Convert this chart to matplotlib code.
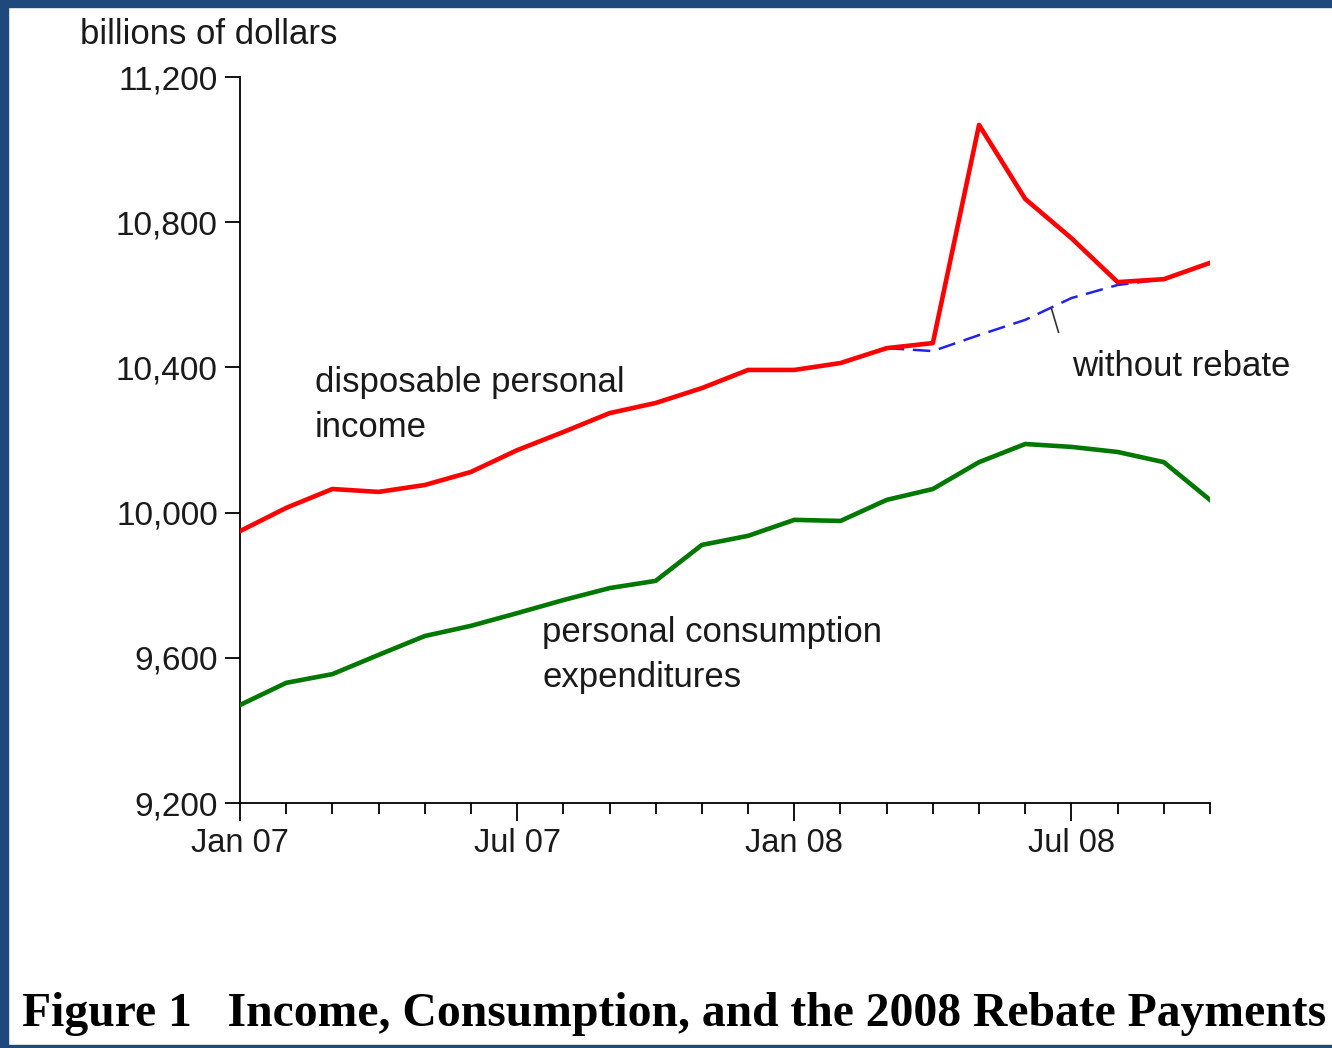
import matplotlib.pyplot as plt
import matplotlib.patches as patches
import numpy as np

OUT_PATH = "out.png"

# monthly data, Jan 07 .. Oct 08 (billions of dollars)
months = ["Jan 07", "Feb 07", "Mar 07", "Apr 07", "May 07", "Jun 07",
          "Jul 07", "Aug 07", "Sep 07", "Oct 07", "Nov 07", "Dec 07",
          "Jan 08", "Feb 08", "Mar 08", "Apr 08", "May 08", "Jun 08",
          "Jul 08", "Aug 08", "Sep 08", "Oct 08"]
dpi_income = [9949, 10013, 10065, 10057, 10076, 10112, 10172, 10222,
              10274, 10302, 10343, 10393, 10393, 10412, 10453, 10467,
              11068, 10864, 10756, 10635, 10643, 10688]
pce = [9470, 9531, 9555, 9608, 9660, 9688, 9723, 9759, 9792, 9812,
       9911, 9936, 9980, 9977, 10035, 10065, 10139, 10189, 10181,
       10167, 10139, 10035]
# without rebate: Mar 08 .. Sep 08
no_rebate_months = ["Mar 08", "Apr 08", "May 08", "Jun 08", "Jul 08", "Aug 08", "Sep 08"]
no_rebate = [10453, 10445, 10489, 10531, 10591, 10627, 10643]

y_ticks = [9200, 9600, 10000, 10400, 10800, 11200]
x_major = ["Jan 07", "Jul 07", "Jan 08", "Jul 08"]

x = np.arange(len(months))
x_nr = np.array([months.index(m) for m in no_rebate_months])

plt.rcParams["font.family"] = ["Liberation Sans", "DejaVu Sans"]

fig = plt.figure(figsize=(13.32, 10.48), dpi=100)
fig.patch.set_facecolor("white")

# dark blue frame (left, top, bottom)
border = "#1F497D"
fig.patches.append(patches.Rectangle((0, 0), 8 / 1332, 1, transform=fig.transFigure,
                                     color=border, zorder=0))
fig.patches.append(patches.Rectangle((0, 1 - 7 / 1048), 1, 7 / 1048, transform=fig.transFigure,
                                     color=border, zorder=0))
fig.patches.append(patches.Rectangle((0, 0), 1, 3 / 1048, transform=fig.transFigure,
                                     color=border, zorder=0))

ax = fig.add_axes([240 / 1332, 245 / 1048, 970 / 1332, 726 / 1048])

ax.plot(x_nr, no_rebate, color="#2222EE", lw=1.8, dashes=(7, 3.5), zorder=2)
ax.plot(x, dpi_income, color="#FF0000", lw=3.3, zorder=3)
ax.plot(x, pce, color="#007800", lw=3.3, zorder=3)

ax.set_xlim(0, len(months) - 1)
ax.set_ylim(9200, 11200)

ax.spines["top"].set_visible(False)
ax.spines["right"].set_visible(False)
for s in ("left", "bottom"):
    ax.spines[s].set_linewidth(1.3)

ax.set_yticks(y_ticks)
ax.set_yticklabels([f"{v:,}" for v in y_ticks])
ax.tick_params(axis="y", direction="out", length=11, width=1.3, pad=5,
               labelsize=24, labelcolor="#1a1a1a")

ax.set_xticks([months.index(m) for m in x_major])
ax.set_xticklabels(x_major)
ax.set_xticks(x, minor=True)
ax.tick_params(axis="x", which="major", direction="out", length=13, width=1.3,
               pad=5, labelsize=23.5, labelcolor="#1a1a1a")
ax.tick_params(axis="x", which="minor", direction="out", length=8, width=1.3)

txt = dict(fontsize=25, color="#1a1a1a", va="center", ha="left")
fig.text(80 / 1332, 1 - 35 / 1048, "billions of dollars", **txt)
fig.text(315 / 1332, 1 - 405 / 1048, "disposable personal\nincome",
         linespacing=1.45, **txt)
fig.text(542 / 1332, 1 - 655 / 1048, "personal consumption\nexpenditures",
         linespacing=1.45, **txt)
fig.text(1072 / 1332, 1 - 367 / 1048, "without rebate", **txt)

# leader line for "without rebate"
ax.plot([17.57, 17.72], [10561, 10497], color="#333333", lw=1.2, zorder=4)

fig.text(22 / 1332, 1 - 1014 / 1048,
         "Figure 1   Income, Consumption, and the 2008 Rebate Payments",
         family=["Liberation Serif", "DejaVu Serif"], fontweight="bold",
         fontsize=34.3, va="center", ha="left", color="black")

fig.savefig(OUT_PATH, dpi=100, facecolor="white")
print(f"[INFO] saved -> {OUT_PATH}")
